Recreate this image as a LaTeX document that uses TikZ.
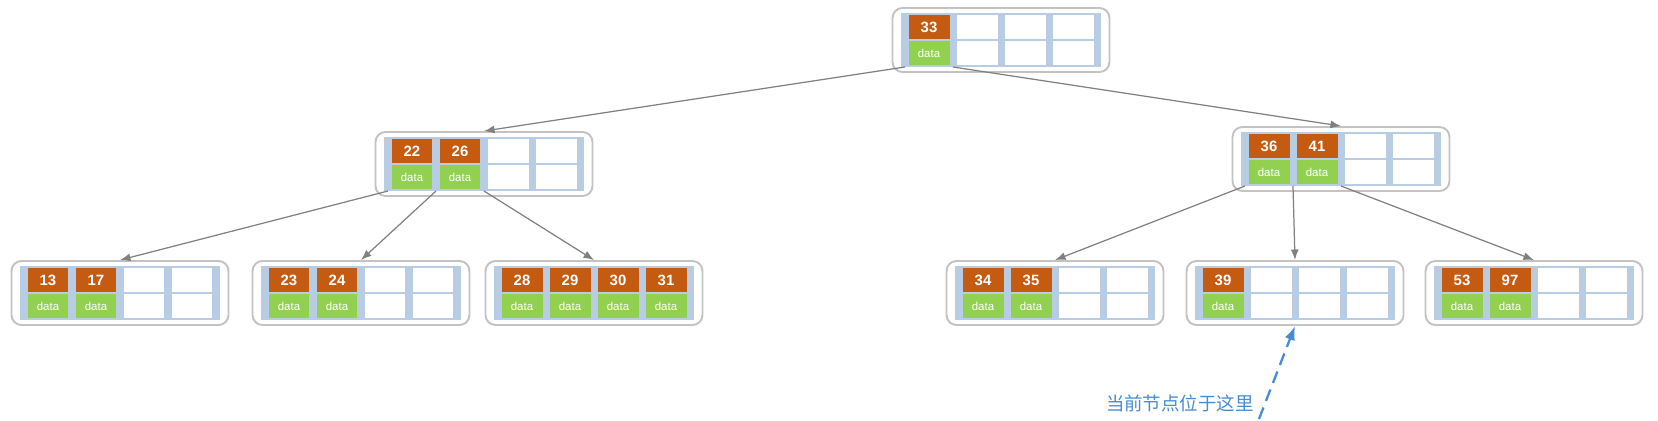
\documentclass[tikz,border=0pt]{standalone}
\usepackage{fontspec}
\setmainfont{Liberation Sans}
\newfontfamily\cjkfont{Noto Sans CJK SC}
\usepackage{tikz}
\usetikzlibrary{positioning, calc, arrows.meta}

\definecolor{keyorange}{RGB}{197,90,17}
\definecolor{datagreen}{RGB}{146,208,80}
\definecolor{slotblue}{RGB}{184,204,228}
\definecolor{boxgray}{RGB}{195,195,195}
\definecolor{edgegray}{RGB}{128,128,128}
\definecolor{noteblue}{RGB}{70,140,210}

% one B-tree node: name, centre, keys
\newcommand{\btnode}[3]{%
  \node[btbox] (#1) at (#2) {};
  \fill[slotblue] ($(#1)+(-100,-27)$) rectangle ($(#1)+(100,27)$);
  \foreach \x [count=\i] in {-72,-24,24,72} {
    \node[emptycell] (#1-e\i) at ($(#1)+(\x,-13)$) {};
    \node[emptycell] (#1-f\i) at ($(#1)+(\x,13)$) {};
  }
  \foreach \k [count=\i] in {#3} {
    \pgfmathsetmacro\kx{-120+48*\i}
    \node[keycell] (#1-k\i) at ($(#1)+(\kx,-13)$) {\k};
    \node[datacell] (#1-d\i) at ($(#1)+(\kx,13)$) {data};
  }
  \foreach \x [count=\i from 0] in {-96,-48,0,48,96}
    \coordinate (#1-p\i) at ($(#1)+(\x,27)$);
}

\begin{document}
\begin{tikzpicture}[
    x=0.02cm, y=-0.02cm,
    btbox/.style={rectangle, draw=boxgray, line width=1.1pt, rounded corners=0.2cm, fill=white, minimum width=4.34cm, minimum height=1.28cm},
    emptycell/.style={rectangle, fill=white, inner sep=0, minimum width=0.82cm, minimum height=0.49cm},
    keycell/.style={emptycell, fill=keyorange, text=white, font=\bfseries\fontsize{8.5}{10}\selectfont},
    datacell/.style={emptycell, fill=datagreen, text=white, font=\fontsize{6.5}{8}\selectfont},
    edge/.style={draw=edgegray, line width=0.7pt, -{Latex[length=6pt,width=4.5pt]}},
    pointer/.style={draw=noteblue, line width=1.3pt, dash pattern=on 7pt off 4pt, -{Latex[length=8pt,width=6pt]}},
    note/.style={text=noteblue, inner sep=0, font=\cjkfont\fontsize{10.5}{12}\selectfont}
]
\useasboundingbox (0,0) rectangle (1658,420);

% root
\btnode{root}{1001,40}{33}

% second level
\btnode{l22}{484,164}{22,26}
\btnode{l36}{1341,159}{36,41}

% leaves
\btnode{n13}{120,293}{13,17}
\btnode{n23}{361,293}{23,24}
\btnode{n28}{594,293}{28,29,30,31}
\btnode{n34}{1055,293}{34,35}
\btnode{n39}{1295,293}{39}
\btnode{n53}{1534,293}{53,97}

% pointers
\draw[edge] (root-p0) -- (l22.north);
\draw[edge] (root-p1) -- (l36.north);
\draw[edge] (l22-p0) -- (n13.north);
\draw[edge] (l22-p1) -- (n23.north);
\draw[edge] (l22-p2) -- (n28.north);
\draw[edge] (l36-p0) -- (n34.north);
\draw[edge] (l36-p1) -- (n39.north);
\draw[edge] (l36-p2) -- (n53.north);

% current node
\node[note, anchor=east] (here) at (1254,403) {当前节点位于这里};
\coordinate (heretail) at (1259,419);
\draw[pointer] (heretail) -- (n39.south);

\end{tikzpicture}
\end{document}
